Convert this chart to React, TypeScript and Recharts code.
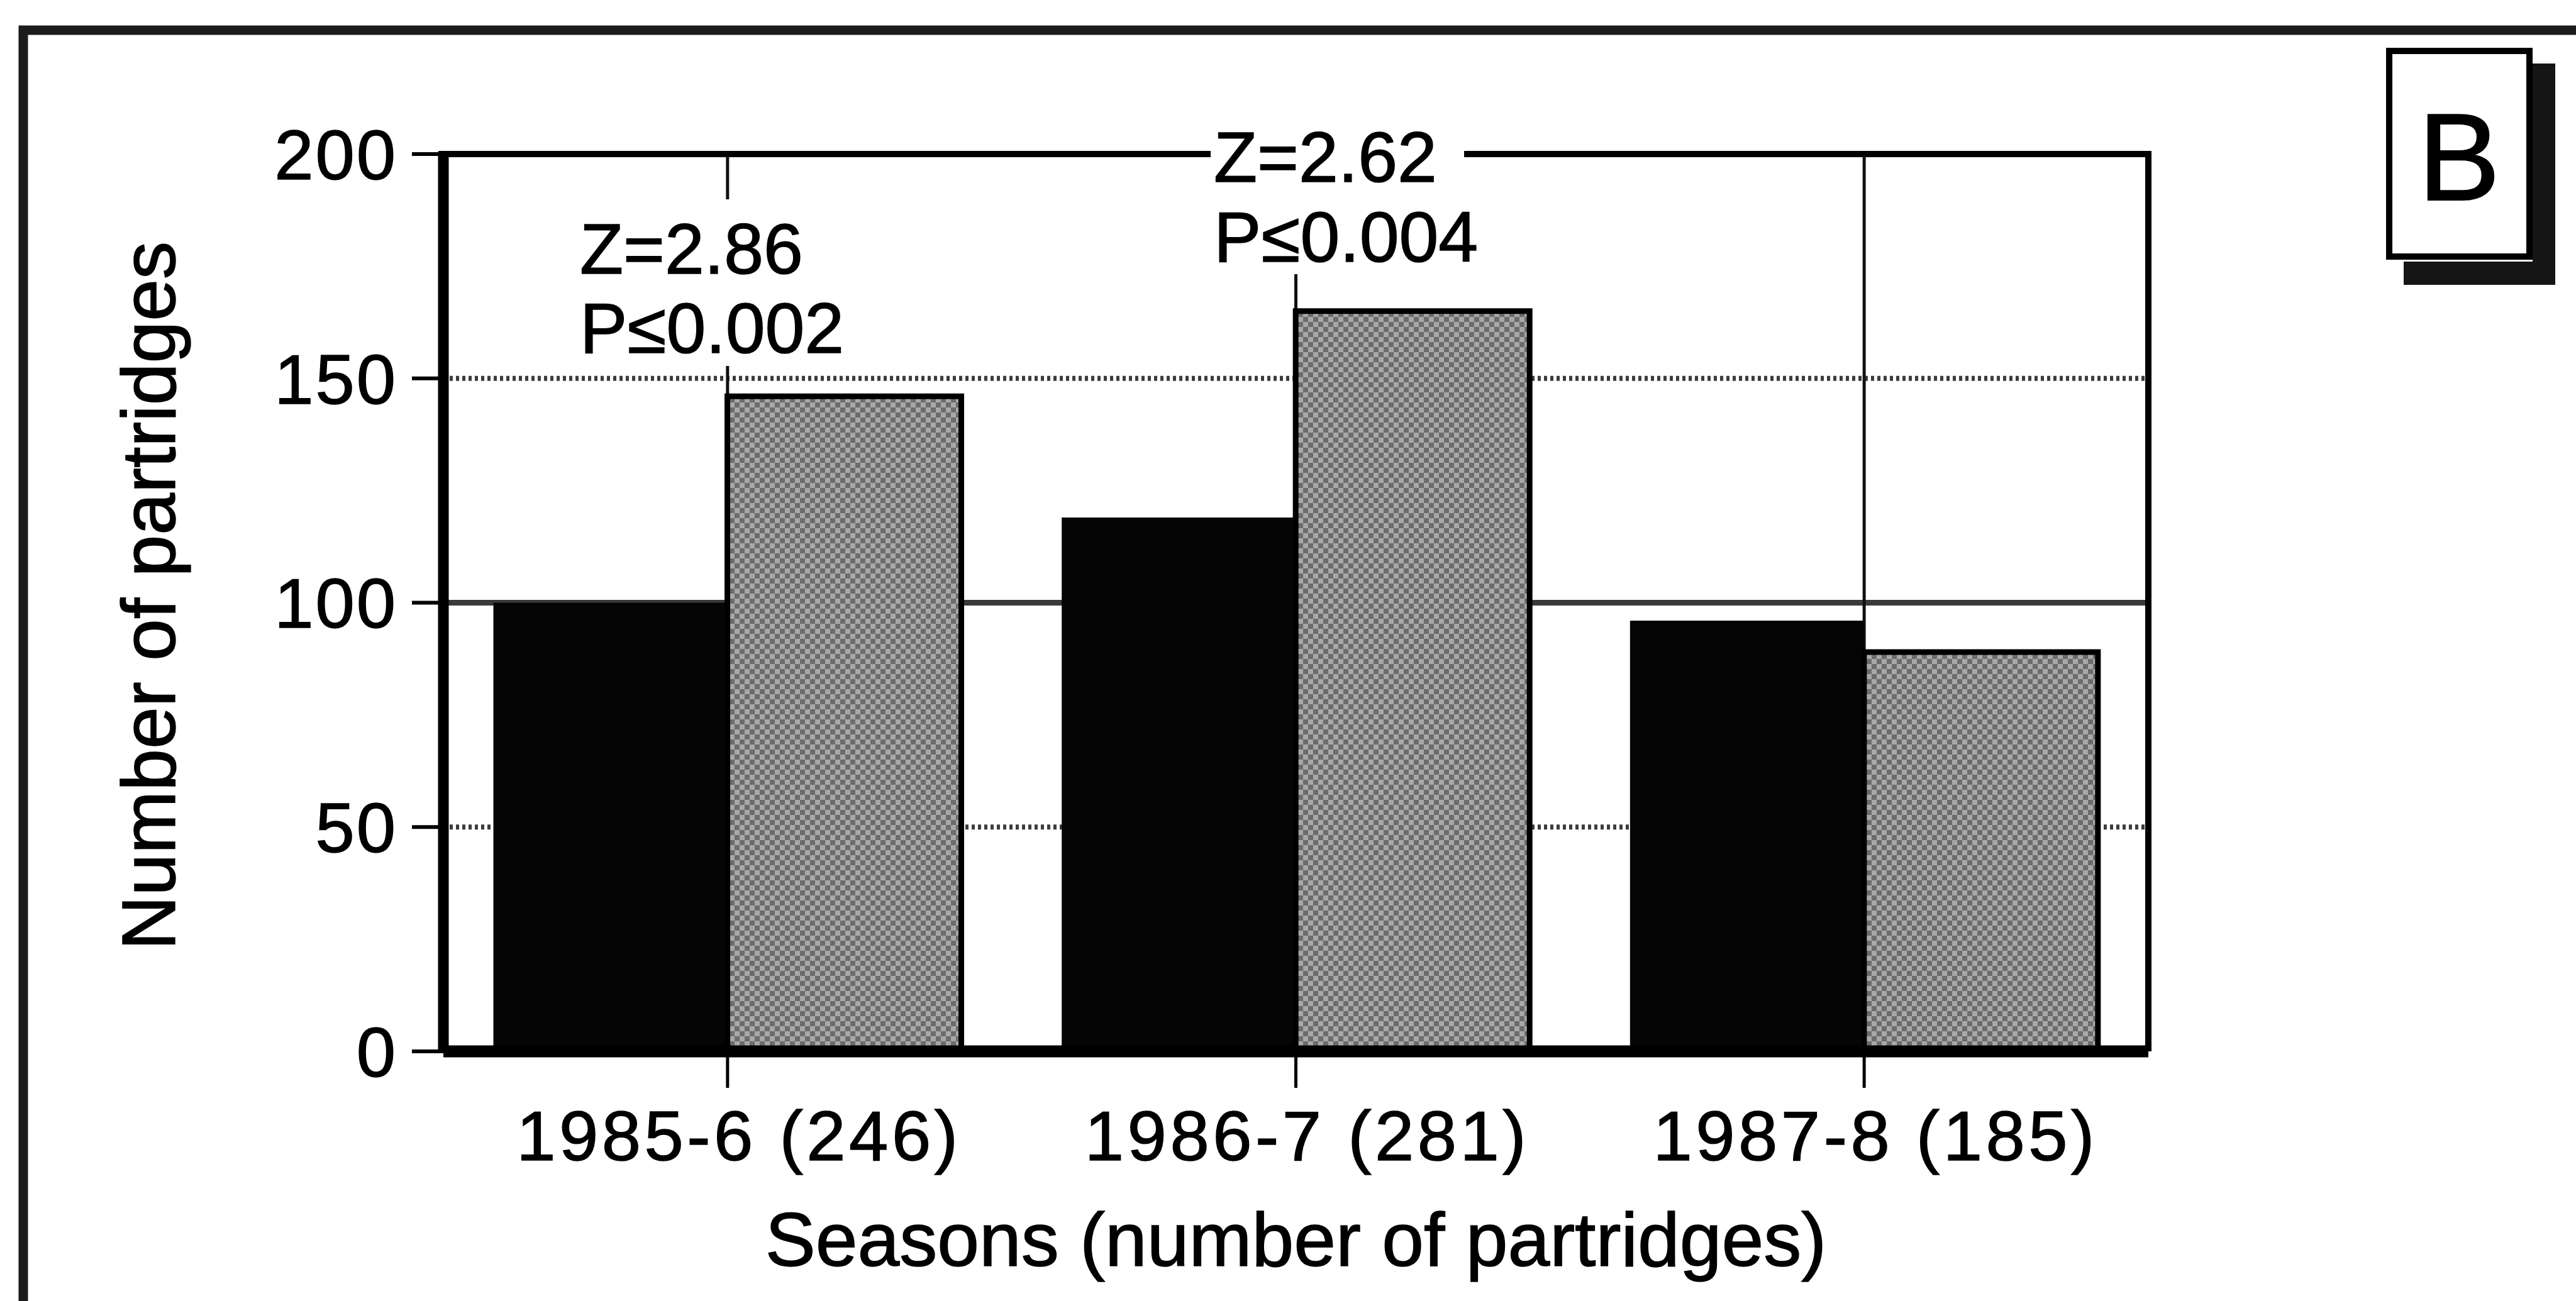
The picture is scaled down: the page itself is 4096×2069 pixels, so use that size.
import React from 'react';
import { BarChart, Bar, XAxis, YAxis, CartesianGrid, Label } from 'recharts';

// ---------- data ----------
const seasons = ['1985-6 (246)', '1986-7 (281)', '1987-8 (185)'];
const blackSeries = [100, 119, 96];
const shadedSeries = [146, 165, 89];
const yTicks = [0, 50, 100, 150, 200];
const annotationZ = ['Z=2.86', 'Z=2.62'];
const annotationP = ['P≤0.002', 'P≤0.004'];
const xAxisTitle = 'Seasons (number of partridges)';
const yAxisTitle = 'Number of partridges';
const panelLetter = 'B';

const data = seasons.map((s, i) => ({ season: s, black: blackSeries[i], shaded: shadedSeries[i] }));

// ---------- layout / style ----------
const W = 4096;
const H = 2069;
const FONT = '"Liberation Sans", Arial, Helvetica, sans-serif';
const MARGIN = { top: 245, right: 680, bottom: 0, left: 0 };
const PLOT = { left: 705, right: 3416, top: 245, bottom: 1672 };

const annotationBoxes = [
  { x: 905, y: 317, w: 445, h: 265, tx: 922, b1: 435, b2: 561 },
  { x: 1925, y: 190, w: 403, h: 246, tx: 1930, b1: 289, b2: 416 },
];

const renderHLine = (props: any) => {
  const v = yTicks[props.index];
  const { x1, x2, y1, y2, key } = props;
  if (v === 100) {
    return <line key={key} x1={x1} x2={x2} y1={y1} y2={y2} stroke="#3a3a3a" strokeWidth={9} />;
  }
  if (v === 50 || v === 150) {
    return (
      <line key={key} x1={x1} x2={x2} y1={y1} y2={y2} stroke="#3c3c3c" strokeWidth={8} strokeDasharray="5 5" />
    );
  }
  return <g key={key} />;
};

const renderVLine = (props: any) => {
  const { x1, x2, y1, y2, key } = props;
  return <line key={key} x1={x1} x2={x2} y1={y1} y2={y2} stroke="#111" strokeWidth={5} />;
};

const XTitle = (p: any) => {
  const vb = p.viewBox || { x: 0, y: 0, width: 0, height: 0 };
  return (
    <text
      x={vb.x + vb.width / 2}
      y={vb.y + 341}
      textAnchor="middle"
      fontSize={120}
      fontFamily={FONT}
      fill="#000"
      stroke="#000"
      strokeWidth={1.5}
    >
      {xAxisTitle}
    </text>
  );
};

const YTitle = (p: any) => {
  const vb = p.viewBox || { x: 0, y: 0, width: 0, height: 0 };
  const cx = vb.x + 278;
  const cy = vb.y + vb.height / 2 - 11;
  return (
    <text
      x={cx}
      y={cy}
      transform={`rotate(-90, ${cx}, ${cy})`}
      textAnchor="middle"
      fontSize={120}
      fontFamily={FONT}
      fill="#000"
      stroke="#000"
      strokeWidth={1.5}
    >
      {yAxisTitle}
    </text>
  );
};

const tickStyle = { fill: '#000', fontSize: 112, fontFamily: FONT, stroke: '#000', strokeWidth: 1.5 };

export default function App() {
  return (
    <div style={{ position: 'absolute', left: 0, top: 0, width: W, height: H, background: '#fff', overflow: 'hidden' }}>
      <BarChart
        width={W}
        height={H}
        data={data}
        margin={MARGIN}
        barCategoryGap="8.8%"
        barGap={0}
      >
        <CartesianGrid horizontal={renderHLine} vertical={renderVLine} />
        <XAxis
          dataKey="season"
          height={H - PLOT.bottom}
          interval={0}
          tickSize={58}
          tickMargin={35}
          tick={{ ...tickStyle, letterSpacing: 5.5, dx: 18 }}
          tickLine={{ stroke: '#000', strokeWidth: 5 }}
          axisLine={{ stroke: '#000', strokeWidth: 19 }}
        >
          <Label content={XTitle} />
        </XAxis>
        <YAxis
          width={PLOT.left}
          domain={[0, 200]}
          ticks={yTicks}
          interval={0}
          tickSize={50}
          tickMargin={23}
          tick={{ ...tickStyle, letterSpacing: 3 }}
          tickLine={{ stroke: '#000', strokeWidth: 6 }}
          axisLine={{ stroke: '#000', strokeWidth: 17 }}
        >
          <Label content={YTitle} />
        </YAxis>
        <Bar dataKey="black" name="Black bars" fill="#050505" isAnimationActive={false} />
        <Bar
          dataKey="shaded"
          name="Shaded bars"
          fill="url(#stipple)"
          stroke="#000"
          strokeWidth={9}
          isAnimationActive={false}
        />
      </BarChart>

      <svg
        width={W}
        height={H}
        style={{ position: 'absolute', left: 0, top: 0, pointerEvents: 'none' }}
      >
        <defs>
          <pattern id="stipple" width="16" height="16" patternUnits="userSpaceOnUse">
            <rect width="16" height="16" fill="#8a8a8a" />
            <rect x="0" y="0" width="8" height="8" fill="#6c6c6c" />
            <rect x="8" y="8" width="8" height="8" fill="#6c6c6c" />
            <rect x="8" y="0" width="8" height="8" fill="#a8a8a8" />
            <rect x="0" y="8" width="8" height="8" fill="#a8a8a8" />
          </pattern>
        </defs>

        {/* outer frame */}
        <rect x={37} y={48} width={6000} height={6000} fill="none" stroke="#1c1c1c" strokeWidth={15} />

        {/* plot frame: top and right */}
        <line x1={PLOT.left - 8} x2={PLOT.right + 5} y1={PLOT.top} y2={PLOT.top} stroke="#000" strokeWidth={10} />
        <line x1={PLOT.right} x2={PLOT.right} y1={PLOT.top} y2={PLOT.bottom} stroke="#000" strokeWidth={10} />

        {/* annotations */}
        {annotationBoxes.map((b, i) => (
          <g key={i}>
            <rect x={b.x} y={b.y} width={b.w} height={b.h} fill="#fff" />
            <text x={b.tx} y={b.b1} fontSize={113} fontFamily={FONT} fill="#000" stroke="#000" strokeWidth={1.5}>
              {annotationZ[i]}
            </text>
            <text x={b.tx} y={b.b2} fontSize={113} fontFamily={FONT} fill="#000" stroke="#000" strokeWidth={1.5}>
              {annotationP[i]}
            </text>
          </g>
        ))}

        {/* panel letter box with shadow */}
        <rect x={4027} y={101} width={36} height={352} fill="#151515" />
        <rect x={3822} y={416} width={241} height={37} fill="#151515" />
        <rect x={3799} y={81} width={223} height={327} fill="#fff" stroke="#000" strokeWidth={10} />
        <text x={3910} y={318} textAnchor="middle" fontSize={196} fontFamily={FONT} fill="#000" stroke="#000" strokeWidth={2}>
          {panelLetter}
        </text>
      </svg>
    </div>
  );
}
